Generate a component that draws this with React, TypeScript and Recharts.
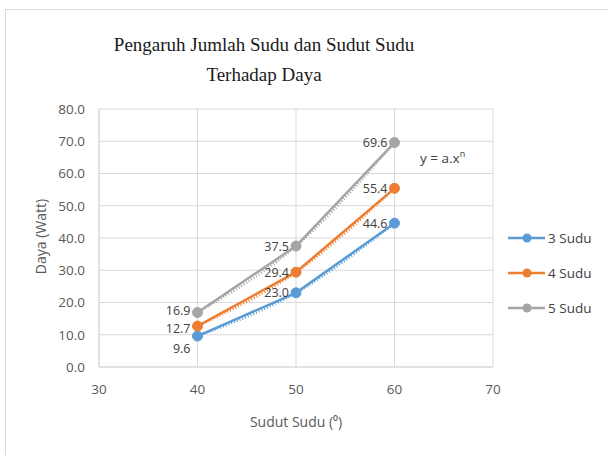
import React from "react";
import { LineChart, Line, XAxis, YAxis, CartesianGrid, LabelList } from "recharts";

const sudut = [40, 50, 60];
const sudu3 = [9.6, 23.0, 44.6];
const sudu4 = [12.7, 29.4, 55.4];
const sudu5 = [16.9, 37.5, 69.6];
const xTicks = [30, 40, 50, 60, 70];
const yTicks = [0, 10, 20, 30, 40, 50, 60, 70, 80];

const seriesList = [
  { key: "s3", name: "3 Sudu", color: "#5B9BD5", values: sudu3 },
  { key: "s4", name: "4 Sudu", color: "#ED7D31", values: sudu4 },
  { key: "s5", name: "5 Sudu", color: "#A5A5A5", values: sudu5 },
];

const data = sudut.map((x, i) => ({
  x,
  s3: sudu3[i],
  s4: sudu4[i],
  s5: sudu5[i],
}));

const FONT = "'Open Sans', 'DejaVu Sans', sans-serif";

const makeLabel = (seriesKey: string) => (props: any) => {
  const { x, y, value, index } = props;
  let shift = 0;
  if (index === 0) {
    if (seriesKey === "s3") shift = 12;
    else if (seriesKey === "s4") shift = 2;
    else shift = -2;
  }
  return (
    <text
      x={x - 7}
      y={y + shift}
      dy="0.36em"
      textAnchor="end"
      fontSize={12.5}
      fontFamily={FONT}
      fill="#404040"
    >
      {Number(value).toFixed(1)}
    </text>
  );
};

const LegendBox = () => (
  <div
    style={{
      position: "absolute",
      left: 508,
      top: 220,
      fontFamily: FONT,
      fontSize: 13.5,
      color: "#404040",
    }}
  >
    {seriesList.map((s) => (
      <div key={s.key} style={{ display: "flex", alignItems: "center", height: 35 }}>
        <svg width={38} height={12} style={{ marginRight: 2 }}>
          <line x1={0} y1={6} x2={37} y2={6} stroke={s.color} strokeWidth={2.5} />
          <circle cx={19} cy={6} r={4.5} fill={s.color} />
        </svg>
        <span>{s.name}</span>
      </div>
    ))}
  </div>
);

export default function App() {
  return (
    <div
      style={{
        position: "absolute",
        left: 0,
        top: 0,
        width: 608,
        height: 455,
        background: "#fff",
        overflow: "hidden",
      }}
    >
      <div
        style={{
          position: "absolute",
          left: 5,
          top: 9,
          width: 620,
          height: 460,
          borderLeft: "1.5px solid #d9d9d9",
          borderTop: "1.5px solid #d9d9d9",
        }}
      />
      <div
        style={{
          position: "absolute",
          left: 64,
          width: 400,
          top: 30,
          textAlign: "center",
          fontFamily: "'Liberation Serif', 'Times New Roman', serif",
          fontSize: 19,
          lineHeight: "30px",
          color: "#1a1a1a",
        }}
      >
        Pengaruh Jumlah Sudu dan Sudut Sudu
        <br />
        Terhadap Daya
      </div>
      <div style={{ position: "absolute", left: 0, top: 0 }}>
        <LineChart
          width={608}
          height={455}
          data={data}
          margin={{ top: 109, right: 115, bottom: 58, left: 39 }}
        >
          <CartesianGrid stroke="#d9d9d9" strokeWidth={1} />
          <XAxis
            dataKey="x"
            type="number"
            domain={[30, 70]}
            ticks={xTicks}
            interval={0}
            height={30}
            stroke="#d9d9d9"
            tickLine={false}
            tickSize={6}
            tickMargin={11}
            tick={{ fontSize: 13.5, fontFamily: FONT, fill: "#595959" }}
          />
          <YAxis
            type="number"
            domain={[0, 80]}
            ticks={yTicks}
            interval={0}
            width={60}
            stroke="#d9d9d9"
            tickLine={false}
            tickSize={6}
            tickMargin={8}
            tickFormatter={(v: number) => v.toFixed(1)}
            tick={{ fontSize: 13.5, fontFamily: FONT, fill: "#595959" }}
          />
          {seriesList.map((s) => (
            <Line
              key={s.key + "trend"}
              dataKey={s.key}
              type="monotone"
              stroke={s.color}
              strokeWidth={2.5}
              strokeDasharray="1 2"
              dot={false}
              activeDot={false}
              legendType="none"
              isAnimationActive={false}
            />
          ))}
          {seriesList.map((s) => (
            <Line
              key={s.key}
              dataKey={s.key}
              name={s.name}
              type="linear"
              stroke={s.color}
              strokeWidth={2.5}
              dot={{ r: 5, fill: s.color, stroke: s.color, strokeWidth: 1 }}
              activeDot={false}
              isAnimationActive={false}
            >
              <LabelList dataKey={s.key} content={makeLabel(s.key)} />
            </Line>
          ))}
        </LineChart>
      </div>
      <LegendBox />
      <div
        style={{
          position: "absolute",
          left: 420,
          top: 147,
          fontFamily: FONT,
          fontSize: 13.5,
          color: "#404040",
          whiteSpace: "nowrap",
        }}
      >
        y = a.x<sup style={{ fontSize: 9 }}>n</sup>
      </div>
      <div
        style={{
          position: "absolute",
          left: 196,
          width: 200,
          top: 412,
          textAlign: "center",
          fontFamily: FONT,
          fontSize: 14,
          color: "#595959",
        }}
      >
        Sudut Sudu (⁰)
      </div>
      <div
        style={{
          position: "absolute",
          left: 40 - 100,
          top: 238 - 11,
          width: 200,
          textAlign: "center",
          transform: "rotate(-90deg)",
          fontFamily: FONT,
          fontSize: 14,
          color: "#595959",
        }}
      >
        Daya (Watt)
      </div>
    </div>
  );
}
